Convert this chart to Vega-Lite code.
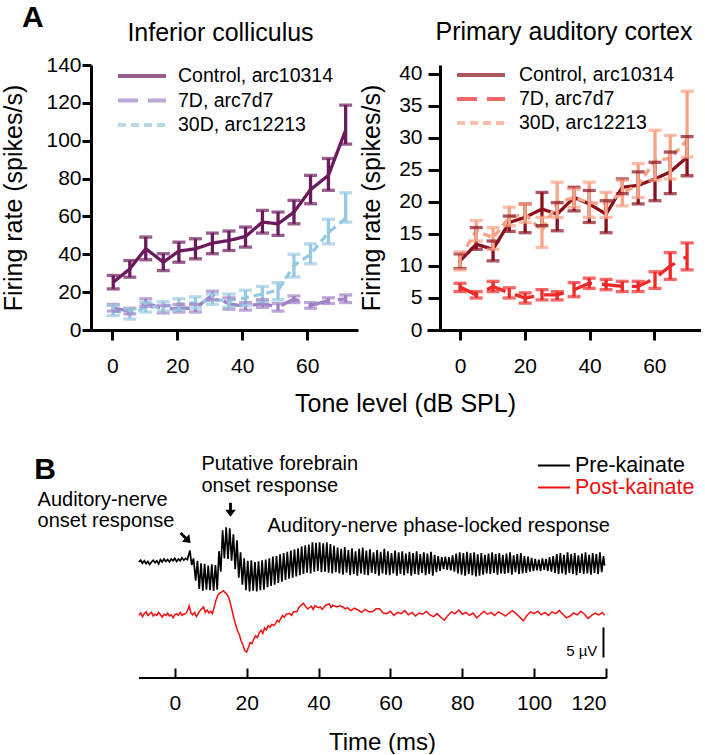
{
  "$schema": "https://vega.github.io/schema/vega-lite/v6.json",
  "background": "white",
  "padding": {"left": 1, "top": 2, "right": 0, "bottom": 0},
  "config": {
    "font": "Liberation Sans",
    "view": {"stroke": null},
    "axis": {"grid": false, "domainColor": "black", "tickColor": "black", "labelColor": "black", "titleColor": "black", "titleFontWeight": "normal", "labelFont": "Liberation Sans", "titleFont": "Liberation Sans", "labelOverlap": false},
    "legend": {"labelFont": "Liberation Sans", "labelColor": "black", "padding": 0},
    "title": {"font": "Liberation Sans", "fontWeight": "normal", "color": "black"}
  },
  "title": {"text": "A", "anchor": "start", "fontSize": 30, "fontWeight": "bold", "baseline": "alphabetic", "offset": -37, "dx": 20},
  "resolve": {"scale": {"color": "independent", "strokeDash": "independent", "x": "independent", "y": "independent"}},
  "columns": 1,
  "spacing": 37,
  "datasets": {
    "ic": [
      {"g": "Control, arc10314", "x": 0.3, "m": 25.2, "lo": 21.7, "hi": 28.8},
      {"g": "Control, arc10314", "x": 5.4, "m": 32.3, "lo": 27.9, "hi": 36.7},
      {"g": "Control, arc10314", "x": 10.3, "m": 43.0, "lo": 37.1, "hi": 49.1},
      {"g": "Control, arc10314", "x": 15.7, "m": 35.8, "lo": 31.4, "hi": 40.3},
      {"g": "Control, arc10314", "x": 20.5, "m": 41.7, "lo": 35.8, "hi": 46.4},
      {"g": "Control, arc10314", "x": 25.6, "m": 42.9, "lo": 37.6, "hi": 48.2},
      {"g": "Control, arc10314", "x": 30.8, "m": 45.9, "lo": 40.3, "hi": 51.2},
      {"g": "Control, arc10314", "x": 35.9, "m": 47.3, "lo": 42.0, "hi": 52.3},
      {"g": "Control, arc10314", "x": 41.0, "m": 49.4, "lo": 43.8, "hi": 54.4},
      {"g": "Control, arc10314", "x": 46.2, "m": 57.0, "lo": 51.2, "hi": 63.2},
      {"g": "Control, arc10314", "x": 51.0, "m": 56.1, "lo": 50.0, "hi": 62.3},
      {"g": "Control, arc10314", "x": 55.9, "m": 62.3, "lo": 56.1, "hi": 68.5},
      {"g": "Control, arc10314", "x": 61.0, "m": 74.2, "lo": 66.7, "hi": 81.7},
      {"g": "Control, arc10314", "x": 66.5, "m": 81.7, "lo": 73.8, "hi": 90.6},
      {"g": "Control, arc10314", "x": 71.8, "m": 105.6, "lo": 98.2, "hi": 118.8},
      {"g": "7D, arc7d7", "x": 0.3, "m": 11.5, "lo": 10.0, "hi": 13.5},
      {"g": "7D, arc7d7", "x": 5.4, "m": 10.0, "lo": 8.5, "hi": 11.5},
      {"g": "7D, arc7d7", "x": 10.3, "m": 14.5, "lo": 12.5, "hi": 16.5},
      {"g": "7D, arc7d7", "x": 15.7, "m": 11.0, "lo": 9.0, "hi": 13.0},
      {"g": "7D, arc7d7", "x": 20.5, "m": 11.5, "lo": 9.5, "hi": 13.5},
      {"g": "7D, arc7d7", "x": 25.6, "m": 11.5, "lo": 9.5, "hi": 13.5},
      {"g": "7D, arc7d7", "x": 30.8, "m": 18.5, "lo": 16.0, "hi": 20.5},
      {"g": "7D, arc7d7", "x": 35.9, "m": 13.8, "lo": 11.0, "hi": 17.0},
      {"g": "7D, arc7d7", "x": 41.0, "m": 12.5, "lo": 10.5, "hi": 14.5},
      {"g": "7D, arc7d7", "x": 46.2, "m": 14.0, "lo": 12.0, "hi": 16.0},
      {"g": "7D, arc7d7", "x": 51.0, "m": 12.0, "lo": 10.0, "hi": 14.0},
      {"g": "7D, arc7d7", "x": 55.9, "m": 16.5, "lo": 14.5, "hi": 18.0},
      {"g": "7D, arc7d7", "x": 61.0, "m": 13.0, "lo": 11.5, "hi": 14.5},
      {"g": "7D, arc7d7", "x": 66.5, "m": 15.5, "lo": 14.0, "hi": 17.0},
      {"g": "7D, arc7d7", "x": 71.8, "m": 16.5, "lo": 14.5, "hi": 18.5},
      {"g": "30D, arc12213", "x": 0.3, "m": 10.2, "lo": 7.6, "hi": 12.9},
      {"g": "30D, arc12213", "x": 5.4, "m": 8.5, "lo": 5.8, "hi": 11.1},
      {"g": "30D, arc12213", "x": 10.3, "m": 12.0, "lo": 9.5, "hi": 14.5},
      {"g": "30D, arc12213", "x": 15.7, "m": 12.5, "lo": 10.0, "hi": 15.0},
      {"g": "30D, arc12213", "x": 20.5, "m": 13.5, "lo": 10.5, "hi": 16.5},
      {"g": "30D, arc12213", "x": 25.6, "m": 14.5, "lo": 11.5, "hi": 17.5},
      {"g": "30D, arc12213", "x": 30.8, "m": 16.0, "lo": 13.5, "hi": 19.0},
      {"g": "30D, arc12213", "x": 35.9, "m": 15.5, "lo": 12.0, "hi": 19.0},
      {"g": "30D, arc12213", "x": 41.0, "m": 17.0, "lo": 13.0, "hi": 21.0},
      {"g": "30D, arc12213", "x": 46.2, "m": 19.0, "lo": 15.0, "hi": 23.0},
      {"g": "30D, arc12213", "x": 51.0, "m": 21.0, "lo": 16.0, "hi": 25.0},
      {"g": "30D, arc12213", "x": 55.9, "m": 34.0, "lo": 28.0, "hi": 40.0},
      {"g": "30D, arc12213", "x": 61.0, "m": 40.0, "lo": 35.0, "hi": 45.5},
      {"g": "30D, arc12213", "x": 66.5, "m": 51.5, "lo": 45.5, "hi": 58.5},
      {"g": "30D, arc12213", "x": 71.8, "m": 59.0, "lo": 57.0, "hi": 72.5}
    ],
    "ac": [
      {"g": "Control, arc10314", "x": 0, "m": 10.8, "lo": 9.6, "hi": 11.9},
      {"g": "Control, arc10314", "x": 5, "m": 13.4, "lo": 12.6, "hi": 16.0},
      {"g": "Control, arc10314", "x": 10.2, "m": 12.6, "lo": 10.8, "hi": 13.9},
      {"g": "Control, arc10314", "x": 15.2, "m": 16.8, "lo": 15.4, "hi": 17.8},
      {"g": "Control, arc10314", "x": 20.1, "m": 17.6, "lo": 15.2, "hi": 19.7},
      {"g": "Control, arc10314", "x": 25.3, "m": 18.9, "lo": 16.3, "hi": 21.5},
      {"g": "Control, arc10314", "x": 30, "m": 18.1, "lo": 15.5, "hi": 19.9},
      {"g": "Control, arc10314", "x": 35.2, "m": 20.7, "lo": 18.6, "hi": 22.3},
      {"g": "Control, arc10314", "x": 39.9, "m": 19.7, "lo": 16.8, "hi": 21.8},
      {"g": "Control, arc10314", "x": 45.1, "m": 18.1, "lo": 15.2, "hi": 20.2},
      {"g": "Control, arc10314", "x": 50.1, "m": 22.3, "lo": 21.3, "hi": 23.6},
      {"g": "Control, arc10314", "x": 55, "m": 22.6, "lo": 19.7, "hi": 24.7},
      {"g": "Control, arc10314", "x": 60.2, "m": 23.6, "lo": 20.2, "hi": 26.2},
      {"g": "Control, arc10314", "x": 64.9, "m": 24.7, "lo": 21.3, "hi": 27.8},
      {"g": "Control, arc10314", "x": 70.1, "m": 27.0, "lo": 24.1, "hi": 30.2},
      {"g": "7D, arc7d7", "x": 0, "m": 6.7, "lo": 6.0, "hi": 7.3},
      {"g": "7D, arc7d7", "x": 5, "m": 5.5, "lo": 5.0, "hi": 6.0},
      {"g": "7D, arc7d7", "x": 10.2, "m": 6.8, "lo": 6.0, "hi": 7.6},
      {"g": "7D, arc7d7", "x": 15.2, "m": 5.8, "lo": 5.0, "hi": 6.6},
      {"g": "7D, arc7d7", "x": 20.1, "m": 5.0, "lo": 4.2, "hi": 5.8},
      {"g": "7D, arc7d7", "x": 25.3, "m": 5.5, "lo": 4.7, "hi": 6.3},
      {"g": "7D, arc7d7", "x": 30, "m": 5.5, "lo": 4.7, "hi": 6.0},
      {"g": "7D, arc7d7", "x": 35.2, "m": 6.3, "lo": 5.2, "hi": 7.4},
      {"g": "7D, arc7d7", "x": 39.9, "m": 7.3, "lo": 6.5, "hi": 8.1},
      {"g": "7D, arc7d7", "x": 45.1, "m": 7.1, "lo": 6.3, "hi": 7.9},
      {"g": "7D, arc7d7", "x": 50.1, "m": 6.8, "lo": 6.0, "hi": 7.6},
      {"g": "7D, arc7d7", "x": 55, "m": 6.8, "lo": 6.0, "hi": 7.6},
      {"g": "7D, arc7d7", "x": 60.2, "m": 8.1, "lo": 6.5, "hi": 9.1},
      {"g": "7D, arc7d7", "x": 64.9, "m": 10.0, "lo": 7.9, "hi": 12.1},
      {"g": "7D, arc7d7", "x": 70.1, "m": 11.5, "lo": 9.4, "hi": 13.6},
      {"g": "30D, arc12213", "x": 0, "m": 11.3, "lo": 9.4, "hi": 12.2},
      {"g": "30D, arc12213", "x": 5, "m": 15.5, "lo": 13.9, "hi": 17.1},
      {"g": "30D, arc12213", "x": 10.2, "m": 14.4, "lo": 12.6, "hi": 16.0},
      {"g": "30D, arc12213", "x": 15.2, "m": 17.6, "lo": 16.3, "hi": 19.2},
      {"g": "30D, arc12213", "x": 20.1, "m": 18.1, "lo": 16.8, "hi": 19.7},
      {"g": "30D, arc12213", "x": 25.3, "m": 15.5, "lo": 12.9, "hi": 17.6},
      {"g": "30D, arc12213", "x": 30, "m": 19.9, "lo": 17.6, "hi": 23.1},
      {"g": "30D, arc12213", "x": 35.2, "m": 20.7, "lo": 19.2, "hi": 22.0},
      {"g": "30D, arc12213", "x": 39.9, "m": 19.9, "lo": 17.6, "hi": 23.1},
      {"g": "30D, arc12213", "x": 45.1, "m": 19.7, "lo": 17.6, "hi": 21.5},
      {"g": "30D, arc12213", "x": 50.1, "m": 21.5, "lo": 19.4, "hi": 23.4},
      {"g": "30D, arc12213", "x": 55, "m": 22.6, "lo": 20.7, "hi": 26.0},
      {"g": "30D, arc12213", "x": 60.2, "m": 26.5, "lo": 23.4, "hi": 31.2},
      {"g": "30D, arc12213", "x": 64.9, "m": 26.8, "lo": 23.6, "hi": 30.4},
      {"g": "30D, arc12213", "x": 70.1, "m": 29.7, "lo": 27.0, "hi": 37.3}
    ],
    "pre": [
      {"t": -10, "v": 0.0}, {"t": -9.5, "v": 0.3}, {"t": -9, "v": -0.2}, {"t": -8.5, "v": 0.2}, {"t": -8, "v": -0.3}, {"t": -7.5, "v": 0.1}, {"t": -7, "v": -0.4}, {"t": -6.5, "v": 0.0}, {"t": -6, "v": 0.3}, {"t": -5.5, "v": -0.1}, {"t": -5, "v": 0.2}, {"t": -4.5, "v": -0.3}, {"t": -4, "v": 0.4}, {"t": -3.5, "v": 0.0}, {"t": -3, "v": 0.5}, {"t": -2.5, "v": 0.1}, {"t": -2, "v": 0.4}, {"t": -1.5, "v": 0.0}, {"t": -1, "v": 0.5}, {"t": -0.5, "v": 0.2}, {"t": 0, "v": 0.6}, {"t": 0.5, "v": 0.1}, {"t": 1, "v": 0.5}, {"t": 1.5, "v": 0.2}, {"t": 2, "v": 0.7}, {"t": 2.5, "v": 0.3}, {"t": 3, "v": 0.6}, {"t": 3.5, "v": 0.4},
      {"t": 4.2, "v": 1.9}, {"t": 4.7, "v": -0.5}, {"t": 5.2, "v": 0.6}, {"t": 5.8, "v": -3.1}, {"t": 6.3, "v": 0.2}, {"t": 6.8, "v": -4.5}, {"t": 7.3, "v": -0.2}, {"t": 7.8, "v": -4.8}, {"t": 8.3, "v": -0.3}, {"t": 8.8, "v": -4.6}, {"t": 9.3, "v": -0.6}, {"t": 9.8, "v": -4.7}, {"t": 10.3, "v": -0.4}, {"t": 10.8, "v": -4.8}, {"t": 11.3, "v": -0.5}, {"t": 11.8, "v": -4.6},
      {"t": 12.3, "v": 1.8}, {"t": 12.8, "v": -1.6}, {"t": 13.3, "v": 5.3}, {"t": 13.8, "v": 0.6}, {"t": 14.3, "v": 5.8}, {"t": 14.8, "v": 0.5}, {"t": 15.3, "v": 5.6}, {"t": 15.8, "v": 0.2}, {"t": 16.3, "v": 4.6}, {"t": 16.8, "v": -1.2}, {"t": 17.3, "v": 3.6}, {"t": 17.8, "v": -2.6}, {"t": 18.3, "v": 1.6}, {"t": 18.8, "v": -3.8},
      {"t": 19.3, "v": 0.6}, {"t": 19.8, "v": -4.7}, {"t": 20.3, "v": 0.2}, {"t": 20.8, "v": -4.9}, {"t": 21.3, "v": 0.3}, {"t": 21.8, "v": -4.8}, {"t": 22.3, "v": 0.0}, {"t": 22.8, "v": -4.9}, {"t": 23.3, "v": 0.1}, {"t": 23.8, "v": -4.7}, {"t": 24.3, "v": 0.3}, {"t": 24.8, "v": -4.6}, {"t": 25.3, "v": 0.4}, {"t": 25.8, "v": -4.2}, {"t": 26.3, "v": 0.6}, {"t": 26.8, "v": -4.0}, {"t": 27.3, "v": 0.9}, {"t": 27.8, "v": -3.8}, {"t": 28.3, "v": 1.0}, {"t": 28.8, "v": -3.5}, {"t": 29.3, "v": 1.3}, {"t": 29.8, "v": -3.3},
      {"t": 30.3, "v": 1.5}, {"t": 30.8, "v": -3.0}, {"t": 31.3, "v": 1.7}, {"t": 31.8, "v": -2.8}, {"t": 32.3, "v": 1.9}, {"t": 32.8, "v": -2.6}, {"t": 33.3, "v": 2.1}, {"t": 33.8, "v": -2.4}, {"t": 34.3, "v": 2.3}, {"t": 34.8, "v": -2.2}, {"t": 35.3, "v": 2.6}, {"t": 35.8, "v": -2.0}, {"t": 36.3, "v": 2.8}, {"t": 36.8, "v": -1.8}, {"t": 37.3, "v": 2.9}, {"t": 37.8, "v": -1.9}, {"t": 38.3, "v": 3.3}, {"t": 38.8, "v": -1.6}, {"t": 39.3, "v": 3.2}, {"t": 39.8, "v": -1.5},
      {"t": 40.3, "v": 3.3}, {"t": 40.8, "v": -1.7}, {"t": 41.3, "v": 3.1}, {"t": 41.8, "v": -1.6}, {"t": 42.3, "v": 3.3}, {"t": 42.8, "v": -1.8}, {"t": 43.3, "v": 3.0}, {"t": 43.8, "v": -1.9}, {"t": 44.3, "v": 2.7}, {"t": 44.8, "v": -1.7}, {"t": 45.3, "v": 2.4}, {"t": 45.8, "v": -1.9}, {"t": 46.3, "v": 2.2}, {"t": 46.8, "v": -2.1}, {"t": 47.3, "v": 2.5}, {"t": 47.8, "v": -1.8}, {"t": 48.3, "v": 2.0}, {"t": 48.8, "v": -2.2}, {"t": 49.3, "v": 2.3}, {"t": 49.8, "v": -2.0},
      {"t": 50.3, "v": 1.8}, {"t": 50.8, "v": -2.3}, {"t": 51.3, "v": 2.2}, {"t": 51.8, "v": -1.9}, {"t": 52.3, "v": 2.4}, {"t": 52.8, "v": -2.1}, {"t": 53.3, "v": 1.9}, {"t": 53.8, "v": -2.2}, {"t": 54.3, "v": 2.1}, {"t": 54.8, "v": -1.8}, {"t": 55.3, "v": 1.6}, {"t": 55.8, "v": -2.0}, {"t": 56.3, "v": 2.0}, {"t": 56.8, "v": -2.3}, {"t": 57.3, "v": 1.7}, {"t": 57.8, "v": -1.9}, {"t": 58.3, "v": 2.2}, {"t": 58.8, "v": -2.1}, {"t": 59.3, "v": 1.8}, {"t": 59.8, "v": -2.2},
      {"t": 60.3, "v": 1.5}, {"t": 60.8, "v": -1.9}, {"t": 61.3, "v": 1.9}, {"t": 61.8, "v": -2.3}, {"t": 62.3, "v": 1.6}, {"t": 62.8, "v": -2.0}, {"t": 63.3, "v": 1.8}, {"t": 63.8, "v": -2.2}, {"t": 64.3, "v": 1.4}, {"t": 64.8, "v": -1.9}, {"t": 65.3, "v": 1.7}, {"t": 65.8, "v": -2.3}, {"t": 66.3, "v": 1.5}, {"t": 66.8, "v": -2.0}, {"t": 67.3, "v": 1.8}, {"t": 67.8, "v": -2.1}, {"t": 68.3, "v": 1.3}, {"t": 68.8, "v": -1.8}, {"t": 69.3, "v": 1.6}, {"t": 69.8, "v": -2.2},
      {"t": 70.3, "v": 1.4}, {"t": 70.8, "v": -2.0}, {"t": 71.3, "v": 1.7}, {"t": 71.8, "v": -2.3}, {"t": 72.3, "v": 1.2}, {"t": 72.8, "v": -1.7}, {"t": 73.3, "v": 1.0}, {"t": 73.8, "v": -1.5}, {"t": 74.3, "v": 0.8}, {"t": 74.8, "v": -1.2}, {"t": 75.3, "v": 0.9}, {"t": 75.8, "v": -1.3}, {"t": 76.3, "v": 0.8}, {"t": 76.8, "v": -1.4}, {"t": 77.3, "v": 1.1}, {"t": 77.8, "v": -1.6}, {"t": 78.3, "v": 1.4}, {"t": 78.8, "v": -1.9}, {"t": 79.3, "v": 1.6}, {"t": 79.8, "v": -2.1},
      {"t": 80.3, "v": 1.5}, {"t": 80.8, "v": -2.3}, {"t": 81.3, "v": 1.7}, {"t": 81.8, "v": -2.0}, {"t": 82.3, "v": 1.5}, {"t": 82.8, "v": -2.2}, {"t": 83.3, "v": 1.6}, {"t": 83.8, "v": -2.4}, {"t": 84.3, "v": 1.3}, {"t": 84.8, "v": -2.3}, {"t": 85.3, "v": 1.5}, {"t": 85.8, "v": -2.1}, {"t": 86.3, "v": 1.2}, {"t": 86.8, "v": -1.9}, {"t": 87.3, "v": 1.4}, {"t": 87.8, "v": -2.0}, {"t": 88.3, "v": 1.6}, {"t": 88.8, "v": -1.8}, {"t": 89.3, "v": 1.3}, {"t": 89.8, "v": -2.1},
      {"t": 90.3, "v": 1.5}, {"t": 90.8, "v": -1.9}, {"t": 91.3, "v": 1.2}, {"t": 91.8, "v": -2.0}, {"t": 92.3, "v": 1.4}, {"t": 92.8, "v": -1.8}, {"t": 93.3, "v": 1.6}, {"t": 93.8, "v": -2.1}, {"t": 94.3, "v": 1.1}, {"t": 94.8, "v": -1.7}, {"t": 95.3, "v": 1.3}, {"t": 95.8, "v": -2.0}, {"t": 96.3, "v": 1.5}, {"t": 96.8, "v": -1.9}, {"t": 97.3, "v": 1.0}, {"t": 97.8, "v": -1.8}, {"t": 98.3, "v": 0.9}, {"t": 98.8, "v": -1.6}, {"t": 99.3, "v": 0.7}, {"t": 99.8, "v": -1.5},
      {"t": 100.3, "v": 0.5}, {"t": 100.8, "v": -1.4}, {"t": 101.3, "v": 0.4}, {"t": 101.8, "v": -1.5}, {"t": 102.3, "v": 0.6}, {"t": 102.8, "v": -1.3}, {"t": 103.3, "v": 0.5}, {"t": 103.8, "v": -1.5}, {"t": 104.3, "v": 0.8}, {"t": 104.8, "v": -1.6}, {"t": 105.3, "v": 1.0}, {"t": 105.8, "v": -1.8}, {"t": 106.3, "v": 1.3}, {"t": 106.8, "v": -2.0}, {"t": 107.3, "v": 1.5}, {"t": 107.8, "v": -1.9}, {"t": 108.3, "v": 1.2}, {"t": 108.8, "v": -2.1}, {"t": 109.3, "v": 1.6}, {"t": 109.8, "v": -1.8},
      {"t": 110.3, "v": 1.3}, {"t": 110.8, "v": -2.0}, {"t": 111.3, "v": 1.5}, {"t": 111.8, "v": -2.2}, {"t": 112.3, "v": 1.1}, {"t": 112.8, "v": -1.8}, {"t": 113.3, "v": 1.4}, {"t": 113.8, "v": -2.0}, {"t": 114.3, "v": 1.6}, {"t": 114.8, "v": -1.9}, {"t": 115.3, "v": 1.2}, {"t": 115.8, "v": -2.1}, {"t": 116.3, "v": 1.5}, {"t": 116.8, "v": -1.8}, {"t": 117.3, "v": 1.3}, {"t": 117.8, "v": -2.0}, {"t": 118.3, "v": 1.6}, {"t": 118.8, "v": -1.7}, {"t": 119.3, "v": 1.0}, {"t": 119.6, "v": -0.6}
    ],
    "post": [
      {"t": -10, "v": -8.9}, {"t": -9.5, "v": -8.5}, {"t": -9, "v": -9.1}, {"t": -8.5, "v": -8.6}, {"t": -8, "v": -8.3}, {"t": -7.5, "v": -8.9}, {"t": -7, "v": -8.6}, {"t": -6.5, "v": -8.4}, {"t": -6, "v": -9.0}, {"t": -5.5, "v": -8.7}, {"t": -5, "v": -8.9}, {"t": -4.5, "v": -8.4}, {"t": -4, "v": -8.8}, {"t": -3.5, "v": -9.2}, {"t": -3, "v": -8.7}, {"t": -2.5, "v": -8.9}, {"t": -2, "v": -8.5}, {"t": -1.5, "v": -9.0}, {"t": -1, "v": -8.8}, {"t": -0.5, "v": -9.3}, {"t": 0, "v": -8.8}, {"t": 0.5, "v": -8.6}, {"t": 1, "v": -8.9}, {"t": 1.5, "v": -8.4}, {"t": 2, "v": -8.9}, {"t": 2.5, "v": -8.7}, {"t": 3, "v": -8.6}, {"t": 3.5, "v": -8.2}, {"t": 4, "v": -7.3}, {"t": 4.5, "v": -8.5}, {"t": 5, "v": -8.8}, {"t": 5.5, "v": -8.4}, {"t": 6, "v": -9.1}, {"t": 6.5, "v": -8.6}, {"t": 7, "v": -8.1}, {"t": 7.5, "v": -7.8}, {"t": 8, "v": -7.5}, {"t": 8.5, "v": -8.4}, {"t": 9, "v": -8.0}, {"t": 9.5, "v": -8.5}, {"t": 10, "v": -8.2}, {"t": 10.5, "v": -8.6}, {"t": 11, "v": -7.4}, {"t": 11.5, "v": -6.3}, {"t": 12, "v": -5.5}, {"t": 12.5, "v": -5.2}, {"t": 13, "v": -5.0}, {"t": 13.5, "v": -4.8}, {"t": 14, "v": -5.1}, {"t": 14.5, "v": -5.4}, {"t": 15, "v": -5.9}, {"t": 15.5, "v": -7.0}, {"t": 16, "v": -8.2}, {"t": 16.5, "v": -9.5}, {"t": 17, "v": -10.6}, {"t": 17.5, "v": -11.5}, {"t": 18, "v": -12.2}, {"t": 18.5, "v": -13.2}, {"t": 19, "v": -13.9}, {"t": 19.5, "v": -14.8}, {"t": 20, "v": -15.0}, {"t": 20.5, "v": -14.2}, {"t": 21, "v": -13.4}, {"t": 21.5, "v": -13.6}, {"t": 22, "v": -12.8}, {"t": 22.5, "v": -12.3}, {"t": 23, "v": -12.6}, {"t": 23.5, "v": -11.8}, {"t": 24, "v": -11.4}, {"t": 24.5, "v": -11.9}, {"t": 25, "v": -11.0}, {"t": 25.5, "v": -11.3}, {"t": 26, "v": -10.6}, {"t": 26.5, "v": -10.9}, {"t": 27, "v": -10.4}, {"t": 27.5, "v": -10.6}, {"t": 28, "v": -10.3}, {"t": 28.5, "v": -9.7}, {"t": 29, "v": -10.0}, {"t": 29.5, "v": -9.4}, {"t": 30, "v": -8.9}, {"t": 30.5, "v": -9.2}, {"t": 31, "v": -8.7}, {"t": 32, "v": -8.6}, {"t": 32.5, "v": -8.9}, {"t": 33, "v": -8.3}, {"t": 34, "v": -8.3}, {"t": 34.5, "v": -7.6}, {"t": 35, "v": -7.3}, {"t": 35.8, "v": -6.9}, {"t": 36.5, "v": -7.5}, {"t": 37, "v": -7.8}, {"t": 38, "v": -7.4}, {"t": 38.5, "v": -7.9}, {"t": 39, "v": -7.3}, {"t": 40, "v": -7.6}, {"t": 40.5, "v": -7.5}, {"t": 41, "v": -7.9}, {"t": 42, "v": -7.2}, {"t": 43, "v": -7.0}, {"t": 43.5, "v": -7.6}, {"t": 44, "v": -7.2}, {"t": 45, "v": -7.5}, {"t": 46, "v": -7.3}, {"t": 46.7, "v": -7.5}, {"t": 47.5, "v": -7.8}, {"t": 48, "v": -7.6}, {"t": 49, "v": -8.1}, {"t": 50, "v": -7.7}, {"t": 51, "v": -8.0}, {"t": 52, "v": -8.4}, {"t": 53, "v": -7.9}, {"t": 54, "v": -8.3}, {"t": 55, "v": -8.3}, {"t": 56, "v": -7.8}, {"t": 57, "v": -7.8}, {"t": 58, "v": -8.5}, {"t": 59, "v": -8.6}, {"t": 60, "v": -8.2}, {"t": 61, "v": -8.9}, {"t": 62, "v": -8.4}, {"t": 63, "v": -8.6}, {"t": 64, "v": -8.1}, {"t": 65, "v": -8.8}, {"t": 66, "v": -8.4}, {"t": 67, "v": -9.0}, {"t": 68, "v": -8.5}, {"t": 69, "v": -8.7}, {"t": 70, "v": -8.2}, {"t": 71, "v": -8.8}, {"t": 72, "v": -9.1}, {"t": 73, "v": -8.6}, {"t": 74, "v": -9.2}, {"t": 75, "v": -9.7}, {"t": 76, "v": -8.9}, {"t": 77, "v": -8.3}, {"t": 78, "v": -8.6}, {"t": 79, "v": -8.0}, {"t": 80, "v": -8.7}, {"t": 81, "v": -8.4}, {"t": 82, "v": -8.9}, {"t": 83, "v": -8.5}, {"t": 84, "v": -9.3}, {"t": 85, "v": -8.8}, {"t": 86, "v": -8.2}, {"t": 87, "v": -8.7}, {"t": 88, "v": -8.4}, {"t": 89, "v": -8.9}, {"t": 90, "v": -8.3}, {"t": 91, "v": -8.6}, {"t": 92, "v": -9.0}, {"t": 93, "v": -8.5}, {"t": 94, "v": -8.1}, {"t": 95, "v": -8.6}, {"t": 96, "v": -9.2}, {"t": 97, "v": -9.8}, {"t": 98, "v": -8.9}, {"t": 99, "v": -8.3}, {"t": 100, "v": -8.6}, {"t": 101, "v": -8.2}, {"t": 102, "v": -8.8}, {"t": 103, "v": -8.4}, {"t": 104, "v": -8.9}, {"t": 105, "v": -8.3}, {"t": 106, "v": -8.6}, {"t": 107, "v": -8.1}, {"t": 108, "v": -8.7}, {"t": 109, "v": -9.3}, {"t": 110, "v": -9.0}, {"t": 111, "v": -8.5}, {"t": 112, "v": -8.8}, {"t": 113, "v": -8.2}, {"t": 114, "v": -8.7}, {"t": 115, "v": -9.4}, {"t": 116, "v": -8.9}, {"t": 117, "v": -8.5}, {"t": 118, "v": -8.8}, {"t": 119, "v": -8.4}, {"t": 119.6, "v": -8.9}
    ],
    "one": [{"k": 1}]
  },
  "concat": [
    {
      "bounds": "flush",
      "spacing": 69,
      "resolve": {"scale": {"color": "independent", "strokeDash": "independent", "x": "independent", "y": "independent"}},
      "hconcat": [
        {
          "width": 275,
          "height": 265,
          "data": {"name": "ic"},
          "title": {"text": "Inferior colliculus", "fontSize": 25, "anchor": "middle", "frame": "group", "offset": -12, "baseline": "alphabetic"},
          "encoding": {
            "x": {"field": "x", "type": "quantitative", "scale": {"domain": [-9, 75.6], "nice": false, "zero": false},
                  "axis": {"values": [0, 20, 40, 60], "title": "Tone level (dB SPL)", "titleFontSize": 25, "titleX": 322, "titleY": 81, "titleAlign": "center", "titleBaseline": "alphabetic", "titleAngle": 0, "labelFontSize": 21, "tickSize": 10, "tickWidth": 3, "domainWidth": 3, "labelPadding": 15, "labelOverlap": false}},
            "color": {"field": "g", "type": "nominal",
                      "scale": {"domain": ["Control, arc10314", "7D, arc7d7", "30D, arc12213"], "range": ["#6b1a5b", "#a182c6", "#98c9e2"]},
                      "legend": {"orient": "none", "legendX": 33, "legendY": -1, "title": null, "symbolType": "stroke", "symbolSize": 2304, "symbolStrokeWidth": 4, "labelFontSize": 19.5, "labelOffset": 10, "clipHeight": 24, "rowPadding": 0.5}}
          },
          "layer": [
            {"mark": {"type": "line", "strokeWidth": 3.3},
             "encoding": {
               "y": {"field": "m", "type": "quantitative", "scale": {"domain": [0, 140], "nice": false},
                     "axis": {"values": [0, 20, 40, 60, 80, 100, 120, 140], "labelOverlap": false, "title": "Firing rate (spikes/s)", "titleFontSize": 25, "titlePadding": 19, "labelFontSize": 21, "labelPadding": 1, "tickSize": 9, "tickWidth": 3, "domainWidth": 3, "offset": -8}},
               "strokeDash": {"field": "g", "type": "nominal",
                              "scale": {"domain": ["Control, arc10314", "7D, arc7d7", "30D, arc12213"], "range": [[1, 0], [20, 10], [8, 5]]},
                              "legend": {"orient": "none", "legendX": 33, "legendY": -1, "title": null, "symbolType": "stroke", "symbolSize": 2304, "symbolStrokeWidth": 4, "labelFontSize": 19.5, "labelOffset": 10, "clipHeight": 24, "rowPadding": 0.5}}
             }},
            {"mark": {"type": "rule", "strokeWidth": 3.3},
             "encoding": {"y": {"field": "lo", "type": "quantitative",
                                "axis": {"values": [0, 20, 40, 60, 80, 100, 120, 140], "labelOverlap": false, "title": "Firing rate (spikes/s)", "titleFontSize": 25, "titlePadding": 19, "labelFontSize": 21, "labelPadding": 1, "tickSize": 9, "tickWidth": 3, "domainWidth": 3, "offset": -8}},
                          "y2": {"field": "hi"}}},
            {"mark": {"type": "tick", "orient": "horizontal", "size": 13, "thickness": 3.3},
             "encoding": {"y": {"field": "lo", "type": "quantitative",
                                "axis": {"values": [0, 20, 40, 60, 80, 100, 120, 140], "labelOverlap": false, "title": "Firing rate (spikes/s)", "titleFontSize": 25, "titlePadding": 19, "labelFontSize": 21, "labelPadding": 1, "tickSize": 9, "tickWidth": 3, "domainWidth": 3, "offset": -8}}}},
            {"mark": {"type": "tick", "orient": "horizontal", "size": 13, "thickness": 3.3},
             "encoding": {"y": {"field": "hi", "type": "quantitative",
                                "axis": {"values": [0, 20, 40, 60, 80, 100, 120, 140], "labelOverlap": false, "title": "Firing rate (spikes/s)", "titleFontSize": 25, "titlePadding": 19, "labelFontSize": 21, "labelPadding": 1, "tickSize": 9, "tickWidth": 3, "domainWidth": 3, "offset": -8}}}}
          ]
        },
        {
          "width": 274,
          "height": 265,
          "data": {"name": "ac"},
          "title": {"text": "Primary auditory cortex", "fontSize": 25, "anchor": "middle", "frame": "group", "offset": -2, "baseline": "alphabetic"},
          "encoding": {
            "x": {"field": "x", "type": "quantitative", "scale": {"domain": [-10.2, 74.4], "nice": false, "zero": false},
                  "axis": {"values": [0, 20, 40, 60], "title": null, "labelFontSize": 21, "tickSize": 10, "tickWidth": 3, "domainWidth": 3, "labelPadding": 15, "labelOverlap": false}},
            "color": {"field": "g", "type": "nominal",
                      "scale": {"domain": ["Control, arc10314", "7D, arc7d7", "30D, arc12213"], "range": ["#8a0f1c", "#f02828", "#f9a386"]},
                      "legend": {"orient": "none", "legendX": 28, "legendY": -2, "title": null, "symbolType": "stroke", "symbolSize": 2304, "symbolStrokeWidth": 4, "labelFontSize": 19.5, "labelOffset": 12, "clipHeight": 24, "rowPadding": 0}}
          },
          "layer": [
            {"mark": {"type": "line", "strokeWidth": 3.3},
             "encoding": {
               "y": {"field": "m", "type": "quantitative", "scale": {"domain": [0, 41.4], "nice": false},
                     "axis": {"values": [0, 5, 10, 15, 20, 25, 30, 35, 40], "labelOverlap": false, "title": "Firing rate (spikes/s)", "titleFontSize": 25, "titlePadding": 14, "labelFontSize": 21, "labelPadding": 6, "tickSize": 12, "tickWidth": 3, "domainWidth": 3, "offset": -13}},
               "strokeDash": {"field": "g", "type": "nominal",
                              "scale": {"domain": ["Control, arc10314", "7D, arc7d7", "30D, arc12213"], "range": [[1, 0], [20, 10], [8, 5]]},
                              "legend": {"orient": "none", "legendX": 28, "legendY": -2, "title": null, "symbolType": "stroke", "symbolSize": 2304, "symbolStrokeWidth": 4, "labelFontSize": 19.5, "labelOffset": 12, "clipHeight": 24, "rowPadding": 0}}
             }},
            {"mark": {"type": "rule", "strokeWidth": 3.3},
             "encoding": {"y": {"field": "lo", "type": "quantitative",
                                "axis": {"values": [0, 5, 10, 15, 20, 25, 30, 35, 40], "labelOverlap": false, "title": "Firing rate (spikes/s)", "titleFontSize": 25, "titlePadding": 14, "labelFontSize": 21, "labelPadding": 6, "tickSize": 12, "tickWidth": 3, "domainWidth": 3, "offset": -13}},
                          "y2": {"field": "hi"}}},
            {"mark": {"type": "tick", "orient": "horizontal", "size": 13, "thickness": 3.3},
             "encoding": {"y": {"field": "lo", "type": "quantitative",
                                "axis": {"values": [0, 5, 10, 15, 20, 25, 30, 35, 40], "labelOverlap": false, "title": "Firing rate (spikes/s)", "titleFontSize": 25, "titlePadding": 14, "labelFontSize": 21, "labelPadding": 6, "tickSize": 12, "tickWidth": 3, "domainWidth": 3, "offset": -13}}}},
            {"mark": {"type": "tick", "orient": "horizontal", "size": 13, "thickness": 3.3},
             "encoding": {"y": {"field": "hi", "type": "quantitative",
                                "axis": {"values": [0, 5, 10, 15, 20, 25, 30, 35, 40], "labelOverlap": false, "title": "Firing rate (spikes/s)", "titleFontSize": 25, "titlePadding": 14, "labelFontSize": 21, "labelPadding": 6, "tickSize": 12, "tickWidth": 3, "domainWidth": 3, "offset": -13}}}}
          ]
        }
      ]
    },
    {
      "width": 523,
      "height": 220,
      "layer": [
        {"data": {"name": "pre"},
         "mark": {"type": "line", "strokeWidth": 1.7},
         "encoding": {
           "x": {"field": "t", "type": "quantitative", "scale": {"domain": [-25.55, 120], "nice": false, "zero": false},
                 "axis": {"values": [0, 20, 40, 60, 80, 100, 120], "domain": false, "title": "Time (ms)", "titleFontSize": 24, "titlePadding": 17, "titleX": 299, "titleAlign": "center", "labelFontSize": 21, "tickSize": -10, "tickWidth": 2, "labelPadding": 24}},
           "y": {"field": "v", "type": "quantitative", "scale": {"domain": [-19.33, 17.33], "nice": false, "zero": false},
                 "axis": {"domain": false, "ticks": false, "labels": false, "title": null, "grid": false}},
           "color": {"datum": "Pre-kainate", "type": "nominal",
                     "scale": {"domain": ["Pre-kainate", "Post-kainate"], "range": ["#000000", "#f01010"]},
                     "legend": {"orient": "none", "legendX": 454, "legendY": -3, "title": null, "symbolType": "stroke", "symbolSize": 1024, "symbolStrokeWidth": 2, "labelFontSize": 21.5, "labelOffset": 4, "clipHeight": 21, "rowPadding": 0,
                                "encode": {"labels": {"update": {"fill": {"signal": "datum.value === 'Post-kainate' ? '#f01010' : '#000000'"}}}}}}
         }},
        {"data": {"name": "post"},
         "mark": {"type": "line", "strokeWidth": 1.5},
         "encoding": {
           "x": {"field": "t", "type": "quantitative"},
           "y": {"field": "v", "type": "quantitative"},
           "color": {"datum": "Post-kainate", "type": "nominal"}
         }},
        {"data": {"name": "one"},
         "mark": {"type": "rule", "strokeWidth": 2, "color": "black"},
         "encoding": {"x": {"datum": -10}, "x2": {"datum": 120}, "y": {"datum": -19.33}}},
        {"data": {"name": "one"},
         "mark": {"type": "text", "text": "Auditory-nerve", "align": "left", "baseline": "alphabetic", "fontSize": 20},
         "encoding": {"x": {"datum": -38.2}, "y": {"datum": 9.4}}},
        {"data": {"name": "one"},
         "mark": {"type": "text", "text": "onset response", "align": "left", "baseline": "alphabetic", "fontSize": 20},
         "encoding": {"x": {"datum": -38.2}, "y": {"datum": 5.8}}},
        {"data": {"name": "one"},
         "mark": {"type": "text", "text": "Putative forebrain", "align": "left", "baseline": "alphabetic", "fontSize": 20},
         "encoding": {"x": {"datum": 7.4}, "y": {"datum": 15.4}}},
        {"data": {"name": "one"},
         "mark": {"type": "text", "text": "onset response", "align": "left", "baseline": "alphabetic", "fontSize": 20},
         "encoding": {"x": {"datum": 7.4}, "y": {"datum": 11.7}}},
        {"data": {"name": "one"},
         "mark": {"type": "text", "text": "Auditory-nerve phase-locked response", "align": "left", "baseline": "alphabetic", "fontSize": 20},
         "encoding": {"x": {"datum": 25.8}, "y": {"datum": 5.0}}},
        {"data": {"name": "one"},
         "mark": {"type": "text", "text": "B", "align": "left", "baseline": "alphabetic", "fontSize": 30, "fontWeight": "bold"},
         "encoding": {"x": {"datum": -39.1}, "y": {"datum": 13.8}}},
        {"data": {"name": "one"},
         "mark": {"type": "point", "shape": "M-0.2,-1L0.2,-1L0.2,0L0.75,0L0,1L-0.75,0L-0.2,0Z", "size": 200, "filled": true, "color": "black", "opacity": 1},
         "encoding": {"x": {"datum": 15.5}, "y": {"datum": 8.7}}},
        {"data": {"name": "one"},
         "mark": {"type": "point", "shape": "M-0.2,-1L0.2,-1L0.2,0L0.75,0L0,1L-0.75,0L-0.2,0Z", "size": 200, "filled": true, "color": "black", "opacity": 1, "angle": -45},
         "encoding": {"x": {"datum": 3.0}, "y": {"datum": 4.0}}},
        {"data": {"name": "one"},
         "mark": {"type": "rule", "strokeWidth": 2, "color": "black"},
         "encoding": {"x": {"datum": 119.3}, "y": {"datum": -10.9}, "y2": {"datum": -15.9}}},
        {"data": {"name": "one"},
         "mark": {"type": "text", "text": "5 µV", "align": "right", "baseline": "alphabetic", "fontSize": 15},
         "encoding": {"x": {"datum": 117.6}, "y": {"datum": -15.7}}}
      ]
    }
  ]
}
